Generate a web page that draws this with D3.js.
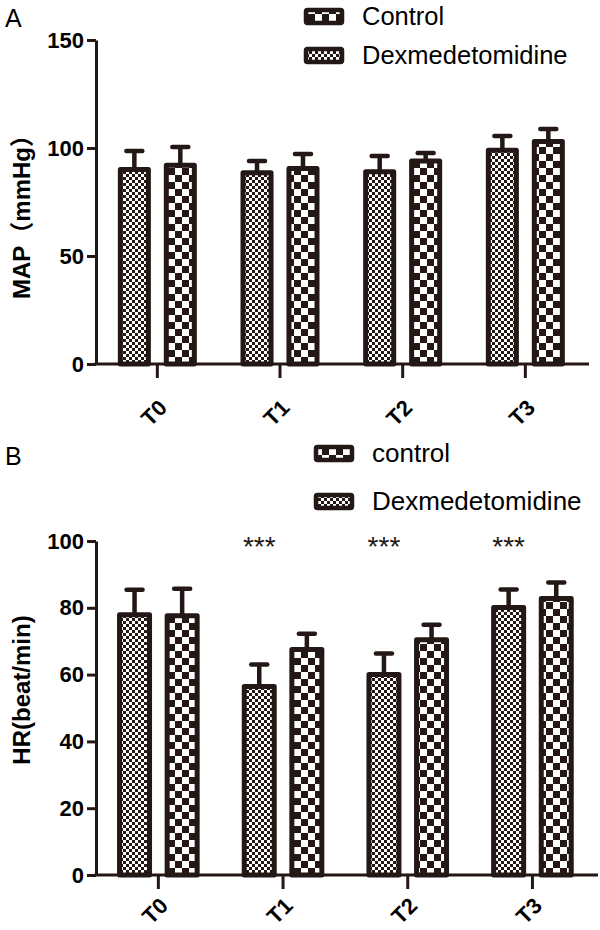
<!DOCTYPE html>
<html>
<head>
<meta charset="utf-8">
<script src="https://cdn.jsdelivr.net/npm/d3@7"></script>
<style>
  html, body { margin: 0; padding: 0; background: #fff; }
  svg { display: block; }
</style>
</head>
<body>
<svg id="chart" width="600" height="930"></svg>
<script>
// ---------------- data ----------------
const categories = ["T0", "T1", "T2", "T3"];
const seriesKeys = ["dex", "ctrl"];

// Panel A : MAP (mmHg)
const mapDex     = [90, 88.5, 89, 99];
const mapDexSD   = [8.6, 5.5, 7.3, 6.5];
const mapCtrl    = [92, 90.5, 94, 103];
const mapCtrlSD  = [8.5, 6.7, 3.7, 5.8];
const mapTicks   = [0, 50, 100, 150];
const mapLegend  = ["Control", "Dexmedetomidine"];
const mapStars   = ["", "", "", ""];

// Panel B : HR (beat/min)
const hrDex      = [77.9, 56.4, 60, 80.1];
const hrDexSD    = [7.5, 6.6, 6.3, 5.4];
const hrCtrl     = [77.6, 67.5, 70.4, 82.8];
const hrCtrlSD   = [8.1, 4.7, 4.5, 4.8];
const hrTicks    = [0, 20, 40, 60, 80, 100];
const hrLegend   = ["control", "Dexmedetomidine"];
const hrStars    = ["", "***", "***", "***"];

// ---------------- style ----------------
const INK = "#231815";
const FONT = "'Liberation Sans', Arial, 'Noto Sans CJK SC', sans-serif";

const svg = d3.select("#chart");
const defs = svg.append("defs");

// fine checker (Dexmedetomidine)
const pDex = defs.append("pattern").attr("id", "patDex")
  .attr("patternUnits", "userSpaceOnUse").attr("width", 6).attr("height", 6);
pDex.append("rect").attr("width", 6).attr("height", 6).attr("fill", "#fff");
pDex.append("rect").attr("width", 3).attr("height", 3).attr("fill", INK);
pDex.append("rect").attr("x", 3).attr("y", 3).attr("width", 3).attr("height", 3).attr("fill", INK);

// coarse checker (Control)
const pCtrl = defs.append("pattern").attr("id", "patCtrl")
  .attr("patternUnits", "userSpaceOnUse").attr("width", 14).attr("height", 14);
pCtrl.append("rect").attr("width", 14).attr("height", 14).attr("fill", "#fff");
pCtrl.append("rect").attr("width", 7).attr("height", 7).attr("fill", INK);
pCtrl.append("rect").attr("x", 7).attr("y", 7).attr("width", 7).attr("height", 7).attr("fill", INK);

const fillOf = { dex: "url(#patDex)", ctrl: "url(#patCtrl)" };

const panels = [
  {
    letter: "A", yLabel: "MAP（mmHg）", yDomain: [0, 150], ticks: mapTicks,
    values: { dex: mapDex, ctrl: mapCtrl }, sd: { dex: mapDexSD, ctrl: mapCtrlSD },
    legend: mapLegend, stars: mapStars,
    L: { x0: 96, step: 122.67, xEnd: 589, y0: 364, yTop: 40, r: 37, pad: 0.39, xlabOff: 45,
         letterY: 27, labelY: 211, legX: 306, legTextX: 362, legY: [25, 64], legSize: 25.5 }
  },
  {
    letter: "B", yLabel: "HR(beat/min)", yDomain: [0, 100], ticks: hrTicks,
    values: { dex: hrDex, ctrl: hrCtrl }, sd: { dex: hrDexSD, ctrl: hrCtrlSD },
    legend: hrLegend, stars: hrStars,
    L: { x0: 96, step: 124.7, xEnd: 598, y0: 875, yTop: 541, r: 38.8, pad: 0.37, xlabOff: 32,
         letterY: 465, labelY: 690, legX: 316, legTextX: 372, legY: [462, 510], legSize: 26 }
  }
];

panels.forEach(p => {
  const L = p.L;
  const g = svg.append("g");
  const y = d3.scaleLinear().domain(p.yDomain).range([L.y0, L.yTop]);
  const x = d3.scaleBand().domain(categories).range([L.x0, L.x0 + 4 * L.step]);
  const x1 = d3.scaleBand().domain(seriesKeys).range([-L.r, L.r]).paddingInner(L.pad);

  // panel letter
  g.append("text").attr("x", 5).attr("y", L.letterY)
    .attr("font-family", FONT).attr("font-size", 25).attr("fill", "#000").text(p.letter);

  // bars data
  const rows = [];
  categories.forEach((c, i) => {
    seriesKeys.forEach(s => rows.push({ c, s, v: p.values[s][i], sd: p.sd[s][i] }));
  });
  const cx = d => x(d.c) + x.bandwidth() / 2 + x1(d.s) + x1.bandwidth() / 2;

  // error bars
  g.selectAll(".eb").data(rows).enter().append("line")
    .attr("x1", cx).attr("x2", cx)
    .attr("y1", d => y(d.v)).attr("y2", d => y(d.v + d.sd))
    .attr("stroke", INK).attr("stroke-width", 4.5);
  g.selectAll(".cap").data(rows).enter().append("line")
    .attr("x1", d => cx(d) - 8).attr("x2", d => cx(d) + 8)
    .attr("y1", d => y(d.v + d.sd)).attr("y2", d => y(d.v + d.sd))
    .attr("stroke", INK).attr("stroke-width", 4.5).attr("stroke-linecap", "round");

  // bars
  g.selectAll(".bar").data(rows).enter().append("rect")
    .attr("x", d => x(d.c) + x.bandwidth() / 2 + x1(d.s))
    .attr("y", d => y(d.v))
    .attr("width", x1.bandwidth())
    .attr("height", d => y(0) - y(d.v))
    .attr("fill", d => fillOf[d.s])
    .attr("stroke", INK).attr("stroke-width", 5).attr("stroke-linejoin", "round");

  // y axis
  const ya = g.append("g").attr("transform", `translate(${L.x0},0)`)
    .call(d3.axisLeft(y).tickValues(p.ticks).tickSize(9).tickSizeOuter(0).tickPadding(3));
  ya.select(".domain").attr("stroke", INK).attr("stroke-width", 3);
  ya.selectAll(".tick line").attr("stroke", INK).attr("stroke-width", 3);
  ya.selectAll(".tick text").attr("font-family", FONT).attr("font-size", 22)
    .attr("font-weight", "bold").attr("fill", "#000");

  // x axis (line + ticks + rotated labels)
  g.append("line").attr("x1", L.x0 - 1.5).attr("x2", L.xEnd)
    .attr("y1", L.y0).attr("y2", L.y0).attr("stroke", INK).attr("stroke-width", 3);
  const xa = g.append("g").attr("transform", `translate(0,${L.y0})`)
    .call(d3.axisBottom(x).tickSize(14).tickSizeOuter(0).tickFormat(""));
  xa.select(".domain").remove();
  xa.selectAll(".tick line").attr("stroke", INK).attr("stroke-width", 3);
  g.selectAll(".xl").data(categories).enter().append("text")
    .attr("transform", c => `translate(${x(c) + x.bandwidth() / 2 + 11},${L.y0 + L.xlabOff}) rotate(-45)`)
    .attr("text-anchor", "end")
    .attr("font-family", FONT).attr("font-size", 22).attr("font-weight", "bold")
    .attr("fill", "#000").text(c => c);

  // y label
  g.append("text")
    .attr("transform", `translate(30,${L.labelY}) rotate(-90)`)
    .attr("text-anchor", "middle")
    .attr("font-family", FONT).attr("font-size", 24).attr("font-weight", "bold")
    .attr("fill", "#000").text(p.yLabel);

  // significance stars (over Dexmedetomidine bars)
  g.selectAll(".star").data(categories).enter().append("text")
    .attr("x", c => x(c) + x.bandwidth() / 2 + x1("dex") + x1.bandwidth() / 2)
    .attr("y", 556)
    .attr("text-anchor", "middle")
    .attr("font-family", FONT).attr("font-size", 28).attr("fill", INK)
    .text((c, i) => p.stars[i]);

  // legend
  const legKeys = ["ctrl", "dex"];
  legKeys.forEach((k, i) => {
    g.append("rect")
      .attr("x", L.legX).attr("y", L.legY[i] - 15)
      .attr("width", 36).attr("height", 13).attr("rx", 1.5)
      .attr("fill", fillOf[k]).attr("stroke", INK).attr("stroke-width", 4.5);
    g.append("text").attr("x", L.legTextX).attr("y", L.legY[i])
      .attr("font-family", FONT).attr("font-size", L.legSize).attr("fill", "#000")
      .text(p.legend[i]);
  });
});
</script>
</body>
</html>
